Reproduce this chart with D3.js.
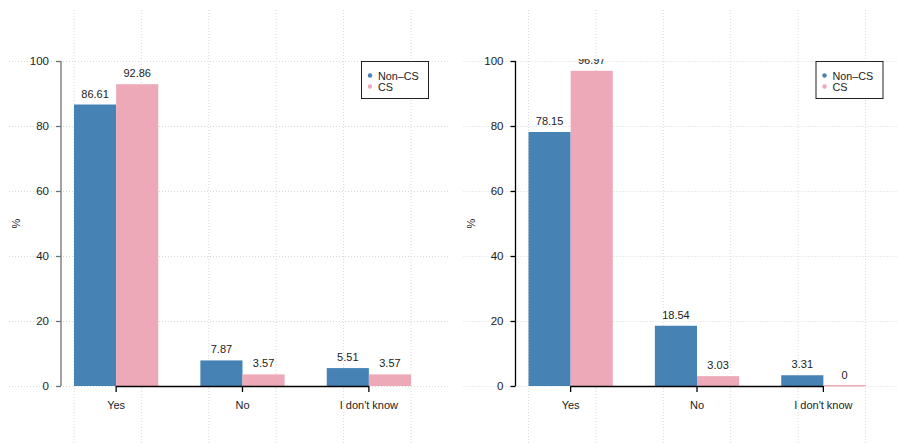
<!DOCTYPE html>
<html><head><meta charset="utf-8">
<script src="https://cdn.jsdelivr.net/npm/d3@7"></script>
<style>
body{margin:0;background:#fff;}
svg{display:block;font-family:"Liberation Sans",Arial,sans-serif;}
</style></head>
<body>
<svg id="chart" width="898" height="445"></svg>
<script>
const categories = ["Yes", "No", "I don't know"];
const seriesNames = ["Non\u2013CS", "CS"];
const leftNonCS = [86.61, 7.87, 5.51];
const leftCS = [92.86, 3.57, 3.57];
const rightNonCS = [78.15, 18.54, 3.31];
const rightCS = [96.97, 3.03, 0];
const yTicks = [0, 20, 40, 60, 80, 100];
const colors = ["#4682B4", "#EEA9B8"];

const svg = d3.select("#chart");
const defs = svg.append("defs");

function panel(dx, values, axisColor, id) {
  const g = svg.append("g").attr("transform", `translate(${dx},0)`);
  const y = d3.scaleLinear().domain([0, 100]).range([386, 61]);
  const x0 = d3.scaleBand().domain(categories).range([74, 411]).paddingInner(1/3).paddingOuter(0);
  const x1 = d3.scaleBand().domain(seriesNames).range([0, x0.bandwidth()]).padding(0);

  // grid
  const gx = d3.range(6).map(i => 74 + i * (411 - 74) / 5);
  g.selectAll(".vg").data(gx).enter().append("line")
    .attr("x1", d => d).attr("x2", d => d).attr("y1", 10).attr("y2", 445)
    .attr("stroke", "#d8d8d8").attr("stroke-dasharray", "1,2").attr("stroke-width", 1);
  g.selectAll(".hg").data(yTicks).enter().append("line")
    .attr("x1", 9).attr("x2", 450).attr("y1", d => y(d) + 0.5).attr("y2", d => y(d) + 0.5)
    .attr("stroke", "#d8d8d8").attr("stroke-dasharray", "1,2").attr("stroke-width", 1);

  defs.append("clipPath").attr("id", id).append("rect")
    .attr("x", 0).attr("y", 59).attr("width", 460).attr("height", 400);

  const data = categories.map((c, i) => ({c, vals: seriesNames.map((s, j) => ({s, v: values[j][i], j}))}));
  const grp = g.selectAll(".grp").data(data).enter().append("g")
    .attr("transform", d => `translate(${x0(d.c)},0)`);
  grp.selectAll("rect").data(d => d.vals).enter().append("rect")
    .attr("x", d => x1(d.s)).attr("width", x1.bandwidth())
    .attr("y", d => d.v === 0 ? y(0) - 1 : y(d.v))
    .attr("height", d => d.v === 0 ? 1.5 : y(0) - y(d.v))
    .attr("fill", d => colors[d.j]);
  const lab = g.append("g").attr("clip-path", `url(#${id})`);
  data.forEach(d => {
    d.vals.forEach(v => {
      lab.append("text")
        .attr("x", x0(d.c) + x1(v.s) + x1.bandwidth() / 2)
        .attr("y", y(v.v) - 7)
        .attr("text-anchor", "middle").attr("font-size", 11).attr("fill", "#222")
        .text(v.v);
    });
  });

  // y axis
  const ya = g.append("g").attr("transform", "translate(61,0)")
    .call(d3.axisLeft(y).tickValues(yTicks).tickSize(5).tickPadding(7));
  ya.selectAll("path").attr("stroke", axisColor).attr("d", `M0,${y(0)}V${y(100)}`).attr("stroke-width", 1.3);
  ya.selectAll("line").attr("stroke", axisColor).attr("stroke-width", 1.3);
  ya.selectAll("text").attr("font-size", 11.5).attr("fill", "#222").attr("font-family", "Liberation Sans, Arial, sans-serif");

  // x axis
  const xa = g.append("g").attr("transform", `translate(0,${y(0)})`);
  const centers = categories.map(c => x0(c) + x0.bandwidth() / 2);
  xa.append("line").attr("x1", centers[0]).attr("x2", centers[centers.length - 1])
    .attr("y1", 0.5).attr("y2", 0.5).attr("stroke", "#000").attr("stroke-width", 1.3);
  xa.selectAll(".tk").data(categories).enter().append("line")
    .attr("x1", c => x0(c) + x0.bandwidth() / 2).attr("x2", c => x0(c) + x0.bandwidth() / 2)
    .attr("y1", 0).attr("y2", 6).attr("stroke", "#000").attr("stroke-width", 1.3);
  xa.selectAll(".tl").data(categories).enter().append("text")
    .attr("x", c => x0(c) + x0.bandwidth() / 2).attr("y", 23)
    .attr("text-anchor", "middle").attr("font-size", 11).attr("fill", "#222").text(c => c);

  // y label
  g.append("text").attr("transform", `translate(20,${(y(0) + y(100)) / 2}) rotate(-90)`)
    .attr("text-anchor", "middle").attr("font-size", 11).attr("fill", "#222").text("%");

  // legend
  const lg = g.append("g").attr("transform", "translate(361,61)");
  lg.append("rect").attr("x", 0.5).attr("y", 0.5).attr("width", 67).attr("height", 37)
    .attr("fill", "#fff").attr("stroke", "#222").attr("stroke-width", 1);
  seriesNames.forEach((s, j) => {
    lg.append("circle").attr("cx", 9).attr("cy", 14.5 + j * 11).attr("r", 2.2).attr("fill", colors[j]);
    lg.append("text").attr("x", 17).attr("y", 18.5 + j * 11).attr("font-size", 10.8).attr("fill", "#222").text(s);
  });
}

panel(0, [leftNonCS, leftCS], "#707070", "clipL");
panel(454.5, [rightNonCS, rightCS], "#000", "clipR");
</script>
</body></html>
